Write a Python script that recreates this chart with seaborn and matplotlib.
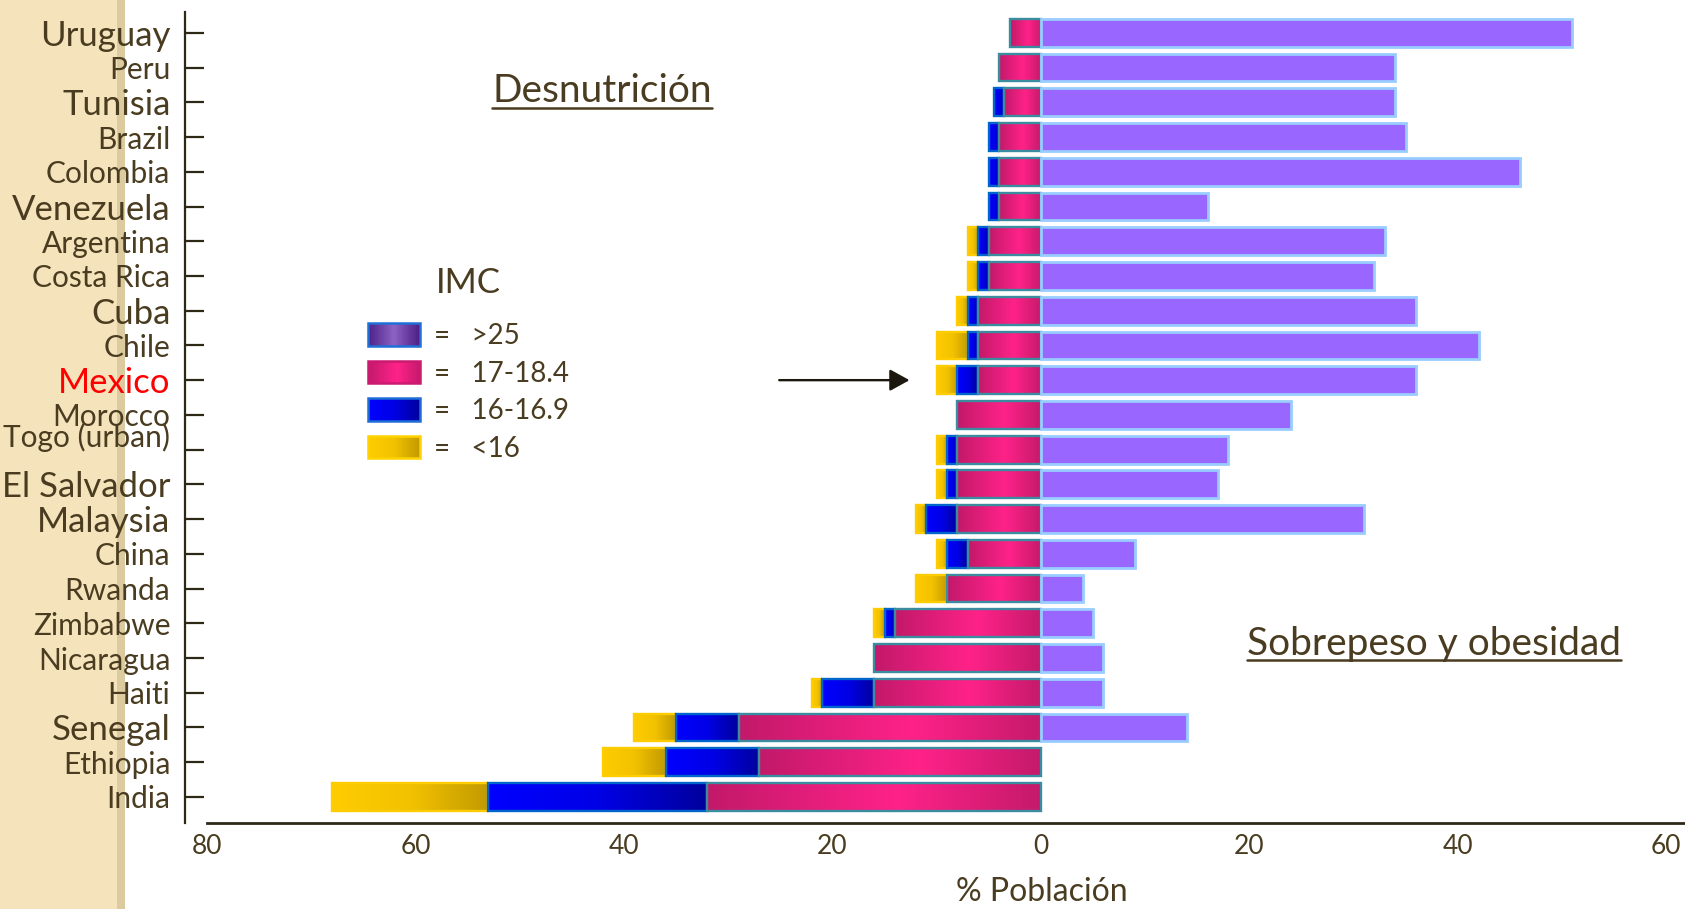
import numpy as np
import pandas as pd
import matplotlib
matplotlib.use("Agg")
import matplotlib.pyplot as plt
import seaborn as sns
from matplotlib.patches import Rectangle, Patch
from matplotlib.lines import Line2D
from matplotlib.legend_handler import HandlerBase
from matplotlib.colors import LinearSegmentedColormap
import matplotlib.transforms as mtransforms

# ---------------- data ----------------
countries = ["Uruguay", "Peru", "Tunisia", "Brazil", "Colombia", "Venezuela",
             "Argentina", "Costa Rica", "Cuba", "Chile", "Mexico", "Morocco",
             "Togo (urban)", "El Salvador", "Malaysia", "China", "Rwanda",
             "Zimbabwe", "Nicaragua", "Haiti", "Senegal", "Ethiopia", "India"]
imc_17_184 = [3, 4, 3.5, 4, 4, 4, 5, 5, 6, 6, 6, 8, 8, 8, 8, 7, 9, 14, 16, 16, 29, 27, 32]
imc_16_169 = [0, 0, 1, 1, 1, 1, 1, 1, 1, 1, 2, 0, 1, 1, 3, 2, 0, 1, 0, 5, 6, 9, 21]
imc_lt16 = [0, 0, 0, 0, 0, 0, 1, 1, 1, 3, 2, 0, 1, 1, 1, 1, 3, 1, 0, 1, 4, 6, 15]
imc_gt25 = [51, 34, 34, 35, 46, 16, 33, 32, 36, 42, 36, 24, 18, 17, 31, 9, 4, 5, 6, 6, 14, 0, 0]

legend_labels = [">25", "17-18.4", "16-16.9", "<16"]
x_ticks = [-80, -60, -40, -20, 0, 20, 40, 60]
x_tick_labels = ["80", "60", "40", "20", "0", "20", "40", "60"]
title_left = "Desnutrición"
title_right = "Sobrepeso y obesidad"
legend_title = "IMC"
x_label = "% Población"
highlight_country = "Mexico"
arrow_country = "Mexico"

# style only: countries written in the larger font
large_label_style = ["Uruguay", "Tunisia", "Venezuela", "Cuba", "Mexico",
                     "El Salvador", "Malaysia", "Senegal"]

# ---------------- style ----------------
sns.set_theme(style="white")
plt.rcParams['font.family'] = ['Lato', 'DejaVu Sans']

TXT = '#4a3c20'
AXC = '#2e2817'
W, H = 1685, 909


def fx(px):
    return px / W


def fy(py):
    return 1 - py / H


fig = plt.figure(figsize=(W / 100, H / 100), dpi=100)
fig.patch.set_facecolor('white')

# left decorative strip of the slide
fig.add_artist(Rectangle((0, 0), fx(117), 1, transform=fig.transFigure,
                         facecolor='#F5E4BB', edgecolor='none', zorder=-10))
fig.add_artist(Rectangle((fx(117), 0), fx(8), 1, transform=fig.transFigure,
                         facecolor='#DCCB9F', edgecolor='none', zorder=-10))

ax = fig.add_axes([fx(207), fy(823), 1 - fx(207), (823 - 12) / H])
ax.set_facecolor('none')

df = pd.DataFrame({
    'country': countries,
    'pink': imc_17_184,
    'blue': imc_16_169,
    'yellow': imc_lt16,
    'over': imc_gt25,
})
df['neg_pink'] = -df['pink']
df['neg_blue'] = -(df['pink'] + df['blue'])
df['neg_total'] = -(df['pink'] + df['blue'] + df['yellow'])

grad_yellow = LinearSegmentedColormap.from_list('gy', ['#FFCC00', '#F2C200', '#C29A00'])
grad_blue = LinearSegmentedColormap.from_list('gb', ['#0000FF', '#0000E6', '#00009C'])
grad_pink = LinearSegmentedColormap.from_list(
    'gp', [(0.0, '#C2196A'), (0.57, '#FF2288'), (1.0, '#C51A6B')])
grad_purple_leg = LinearSegmentedColormap.from_list(
    'gl', [(0.0, '#4B2087'), (0.5, '#8C62C4'), (1.0, '#4B1F85')])

layers = [
    ('neg_total', '#E6B800', grad_yellow, '#FFCC00'),
    ('neg_blue', '#0000D0', grad_blue, '#0066CC'),
    ('neg_pink', '#E91E80', grad_pink, '#3A8C9E'),
]

layer_patches = []
for k, (col, base, cmap, edge) in enumerate(layers):
    n0 = len(ax.patches)
    sns.barplot(data=df, x=col, y='country', orient='h', color=base,
                saturation=1, width=0.8, errorbar=None, linewidth=0,
                ax=ax, zorder=10 * k + 1)
    layer_patches.append(ax.patches[n0:])

# gradients and outlines for each visible segment
grad = np.linspace(0, 1, 256)[None, :]
for k, (col, base, cmap, edge) in enumerate(layers):
    for i, p in enumerate(layer_patches[k]):
        left = min(p.get_x(), p.get_x() + p.get_width())
        if k + 1 < len(layers):
            q = layer_patches[k + 1][i]
            right = min(q.get_x(), q.get_x() + q.get_width())
        else:
            right = max(p.get_x(), p.get_x() + p.get_width())
        if right - left <= 1e-9:
            continue
        y0 = p.get_y()
        h = p.get_height()
        ax.imshow(grad, extent=(left, right, y0 + h, y0), cmap=cmap,
                  aspect='auto', interpolation='bilinear', zorder=10 * k + 2)
        ax.add_patch(Rectangle((left, y0), right - left, h, fill=False,
                               edgecolor=edge, lw=1.7, zorder=10 * k + 3))

# overweight / obesity bars
n0 = len(ax.patches)
sns.barplot(data=df, x='over', y='country', orient='h', color='#9966FF',
            saturation=1, width=0.8, errorbar=None, edgecolor='#99CCFF',
            linewidth=2.0, ax=ax, zorder=40)
for p in ax.patches[n0:]:
    if abs(p.get_width()) < 1e-9:
        p.set_linewidth(0)

# ---------------- axes ----------------
ax.set_xlim(-80, 61.8)
ax.set_ylim(len(countries) - 1 + 0.75, -0.6)
ax.grid(False)
for s in ['top', 'right']:
    ax.spines[s].set_visible(False)
ax.spines['left'].set_position(('outward', 15.8))
ax.spines['left'].set_color(AXC)
ax.spines['left'].set_linewidth(1.6)
ax.spines['bottom'].set_color(AXC)
ax.spines['bottom'].set_linewidth(2.0)

ax.set_xticks(x_ticks, labels=x_tick_labels)
ax.tick_params(axis='x', length=0, pad=8, labelsize=19, labelcolor=TXT, bottom=True)

ax.set_yticks(range(len(countries)), labels=countries)
ax.tick_params(axis='y', direction='in', length=13.7, width=1.6, color=AXC,
               pad=10.5, left=True, labelcolor=TXT)
for lbl in ax.get_yticklabels():
    name = lbl.get_text()
    lbl.set_fontsize(25 if name in large_label_style else 21.5)
    if name == highlight_country:
        lbl.set_color('#FF0000')
    if name == "Togo (urban)":
        lbl.set_transform(lbl.get_transform() +
                          mtransforms.ScaledTranslation(0, 0.15, fig.dpi_scale_trans))

ax.set_ylabel('')
ax.set_xlabel(x_label, fontsize=23, color=TXT)
ax.xaxis.set_label_coords((1042 - 207) / 1478, (823 - 892) / 811)
ax.xaxis.label.set_va('center')

# arrow pointing to Mexico
yi = countries.index(arrow_country)
ax.annotate('', xy=(-12.6, yi), xytext=(-25.1, yi),
            arrowprops=dict(arrowstyle='-|>,head_length=0.4,head_width=0.22',
                            mutation_scale=30, lw=1.7, color='#1c1810',
                            shrinkA=0, shrinkB=0), zorder=50)


# ---------------- legend ----------------
class GradHandler(HandlerBase):
    def __init__(self, cmap, edge):
        super().__init__()
        self.cmap = cmap
        self.edge = edge

    def create_artists(self, legend, orig_handle, xdescent, ydescent,
                       width, height, fontsize, trans):
        arts = []
        n = 30
        for j in range(n):
            arts.append(Rectangle((-xdescent + width * j / n, -ydescent),
                                  width / n * 1.08, height,
                                  facecolor=self.cmap((j + 0.5) / n),
                                  edgecolor='none', transform=trans))
        arts.append(Rectangle((-xdescent, -ydescent), width, height, fill=False,
                              edgecolor=self.edge, lw=1.8, transform=trans))
        return arts


leg_cmaps = [grad_purple_leg, grad_pink, grad_blue, grad_yellow]
leg_edges = ['#1F6FD6', '#CC1A70', '#1F6FD6', '#FFD200']
handles = [Patch(facecolor='none') for _ in legend_labels]
hmap = {h: GradHandler(c, e) for h, c, e in zip(handles, leg_cmaps, leg_edges)}
leg = ax.legend(handles, ["=   " + s for s in legend_labels], handler_map=hmap,
                loc='upper left', bbox_to_anchor=(fx(368), fy(323)),
                bbox_transform=fig.transFigure, frameon=False, fontsize=20,
                handlelength=1.86, handleheight=0.86, handletextpad=0.5,
                labelspacing=0.415, borderpad=0, borderaxespad=0)
for t in leg.get_texts():
    t.set_color(TXT)
leg.set_zorder(60)

fig.text(fx(436), fy(293), legend_title, fontsize=25, color=TXT, va='baseline', ha='left')

# ---------------- titles with underline ----------------
t1 = fig.text(fx(492), fy(101.7), title_left, fontsize=28, color=TXT,
              va='baseline', ha='left')
t2 = fig.text(fx(1247), fy(655), title_right, fontsize=28, color=TXT,
              va='baseline', ha='left')
fig.canvas.draw()
r = fig.canvas.get_renderer()
for t, base, gap in [(t1, 101.7, 6), (t2, 655, 4.5)]:
    bb = t.get_window_extent(r)
    yline = fy(base + gap)
    fig.add_artist(Line2D([bb.x0 / W, bb.x1 / W], [yline, yline],
                          transform=fig.transFigure, lw=1.8, color=TXT))

fig.savefig('out.png', dpi=100)
